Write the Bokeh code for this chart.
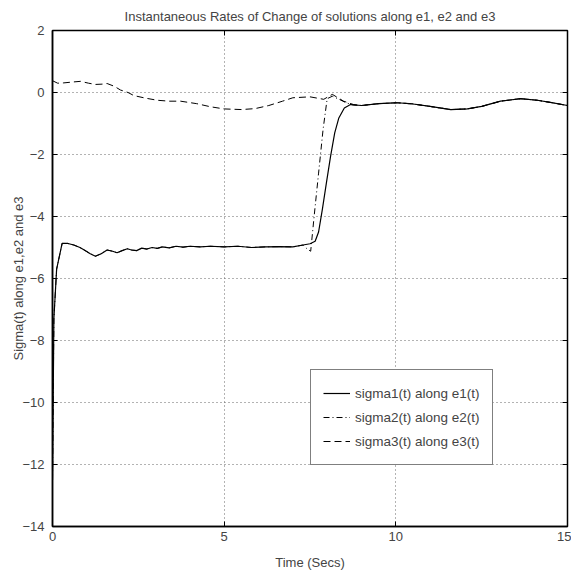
from bokeh.plotting import figure
from bokeh.models import (Range1d, LinearAxis, FixedTicker, Legend, LegendItem,
                          CustomJSTickFormatter)
from bokeh.embed import file_html
from bokeh.resources import INLINE

# ---- data ----
t_head1 = [0, 0.04, 0.12, 0.28, 0.45, 0.62, 0.8, 0.95, 1.1, 1.25, 1.42, 1.59, 1.75, 1.88,
           2.03, 2.18, 2.3, 2.45, 2.6, 2.75, 2.9, 3.05, 3.2, 3.4, 3.6, 3.8, 4.0, 4.3, 4.6,
           5.0, 5.4, 5.8, 6.2, 6.6, 7.0, 7.3]
s_head1 = [-12.5, -7.3, -5.7, -4.87, -4.87, -4.92, -5.0, -5.1, -5.2, -5.28, -5.2, -5.08,
           -5.12, -5.17, -5.1, -5.04, -5.08, -5.1, -5.02, -5.05, -5.0, -5.03, -4.98, -5.01,
           -4.96, -4.99, -4.96, -4.98, -4.96, -4.98, -4.96, -5.0, -4.98, -4.97, -4.98, -4.92]

t_rise1 = [7.5, 7.65, 7.75, 7.86, 7.98, 8.1, 8.22, 8.34, 8.5, 8.68]
s_rise1 = [-4.88, -4.8, -4.5, -3.77, -2.9, -2.05, -1.3, -0.82, -0.5, -0.39]

t_rise2 = [7.42, 7.52, 7.62, 7.75, 7.88, 8.0, 8.15, 8.35, 8.55, 8.75]
s_rise2 = [-5.05, -5.12, -4.0, -2.6, -1.2, -0.2, -0.12, -0.22, -0.33, -0.4]

t_head3 = [0, 0.15, 0.33, 0.6, 0.82, 1.05, 1.25, 1.45, 1.59, 1.8, 1.98, 2.2, 2.37, 2.7,
           3.05, 3.4, 3.73, 4.2, 4.6, 5.0, 5.5, 5.9, 6.3, 6.7, 7.0, 7.5, 7.9, 8.15, 8.48, 8.77]
s_head3 = [0.38, 0.3, 0.31, 0.34, 0.36, 0.3, 0.26, 0.27, 0.29, 0.2, 0.08, 0.0, -0.1, -0.18,
           -0.25, -0.28, -0.28, -0.36, -0.46, -0.53, -0.55, -0.52, -0.42, -0.28, -0.17,
           -0.14, -0.22, -0.06, -0.28, -0.39]

t_tail = [9.0, 9.5, 10.04, 10.5, 11.0, 11.6, 12.08, 12.5, 13.05, 13.63, 14.12, 14.5, 15.0]
s_tail = [-0.42, -0.36, -0.33, -0.37, -0.45, -0.55, -0.53, -0.45, -0.28, -0.2, -0.25, -0.32, -0.42]

x_ticks = [0, 5, 10, 15]
y_ticks = [-14, -12, -10, -8, -6, -4, -2, 0, 2]
labels = ["sigma1(t) along e1(t)", "sigma2(t) along e2(t)", "sigma3(t) along e3(t)"]

t1 = t_head1 + t_rise1 + t_tail
s1 = s_head1 + s_rise1 + s_tail
t2 = t_head1 + t_rise2 + t_tail
s2 = s_head1 + s_rise2 + s_tail
t3 = t_head3 + t_tail
s3 = s_head3 + s_tail

FONT = "Liberation Sans"

p = figure(frame_width=515, frame_height=496, output_backend="svg", toolbar_location=None,
           x_range=Range1d(0, 15), y_range=Range1d(-14, 2),
           min_border_left=52, min_border_right=4, min_border_top=30, min_border_bottom=44,
           title="Instantaneous Rates of Change of solutions along e1, e2 and e3")
p.title.align = "center"
p.title.vertical_align = "top"
p.title.text_font = FONT
p.title.text_font_size = "13px"
p.title.text_font_style = "normal"
p.title.standoff = 10
p.outline_line_color = "black"
p.outline_line_width = 1.5

for ax in (p.xaxis[0], p.yaxis[0]):
    ax.major_label_text_font = FONT
    ax.major_label_text_font_size = "13px"
    ax.axis_label_text_font = FONT
    ax.axis_label_text_font_size = "13px"
    ax.axis_label_text_font_style = "normal"
    ax.major_tick_in = 5
    ax.major_tick_out = 0
    ax.minor_tick_line_color = None
    ax.axis_line_width = 1.5
    ax.axis_line_color = "black"
    ax.major_tick_line_color = "black"

p.xaxis[0].ticker = FixedTicker(ticks=x_ticks)
p.yaxis[0].ticker = FixedTicker(ticks=y_ticks)
p.xaxis[0].axis_label = "Time (Secs)"
p.yaxis[0].axis_label = "Sigma(t) along e1,e2 and e3"
p.xaxis[0].major_label_standoff = 5
p.xaxis[0].axis_label_standoff = 11
p.yaxis[0].major_label_standoff = 8
p.yaxis[0].axis_label_standoff = -7

blank = CustomJSTickFormatter(code="return '';")
ax_r = LinearAxis(ticker=FixedTicker(ticks=y_ticks), formatter=blank,
                  major_label_standoff=0, major_tick_in=5, major_tick_out=0,
                  minor_tick_line_color=None, axis_line_color=None)
ax_t = LinearAxis(ticker=FixedTicker(ticks=x_ticks), formatter=blank,
                  major_label_standoff=0, major_tick_in=5, major_tick_out=0,
                  minor_tick_line_color=None, axis_line_color=None)
p.add_layout(ax_r, "right")
p.add_layout(ax_t, "above")

p.xgrid.ticker = FixedTicker(ticks=x_ticks)
p.ygrid.ticker = FixedTicker(ticks=y_ticks)
p.grid.grid_line_color = "#666666"
p.grid.grid_line_dash = "1 3"
p.grid.grid_line_width = 1

r1 = p.line(t1, s1, line_color="black", line_width=1.2)
r2 = p.line(t2, s2, line_color="black", line_width=1.0, line_dash="6 3 1 3")
r3 = p.line(t3, s3, line_color="black", line_width=1.0, line_dash="7 4")

legend = Legend(items=[LegendItem(label=labels[0], renderers=[r1]),
                       LegendItem(label=labels[1], renderers=[r2]),
                       LegendItem(label=labels[2], renderers=[r3])],
                location=(258, 61), margin=0, padding=12, spacing=2,
                glyph_width=27, glyph_height=20, label_height=22, label_standoff=5,
                label_text_font=FONT, label_text_font_size="13.5px",
                border_line_color="black", border_line_width=1.2,
                background_fill_color="white", background_fill_alpha=1)
p.add_layout(legend)

open("out.html", "w").write(file_html(p, INLINE))
